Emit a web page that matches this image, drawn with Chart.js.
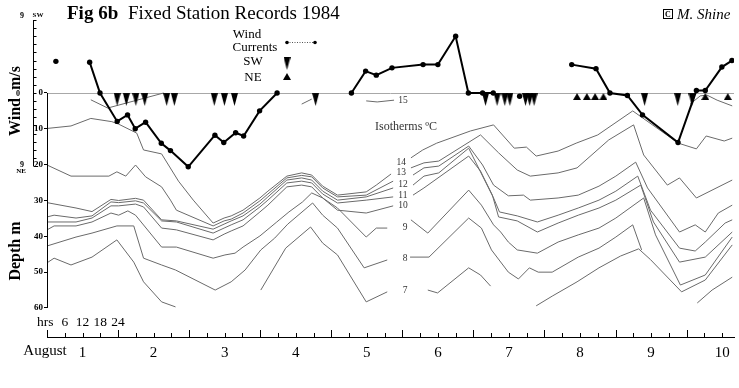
<!DOCTYPE html>
<html>
<head>
<meta charset="utf-8">
<script src="https://cdn.jsdelivr.net/npm/chart.js@4.4.1/dist/chart.umd.min.js"></script>
<style>
  html, body { margin: 0; padding: 0; background: #fff; }
  canvas { display: block; }
</style>
</head>
<body>
<canvas id="chart" width="739" height="388"></canvas>
<script>
// hours counted from 00:00 on 1 August, depths in metres, wind in m/s (SW positive)
const dayLabels = ["1", "2", "3", "4", "5", "6", "7", "8", "9", "10"];
const hourLabels = ["6", "12", "18", "24"];
const depthTicks = [0, 10, 20, 30, 40, 50, 60];

// null = no record (line is broken there)
const windHours = [3.0, null, 14.4, 17.9, 23.7, 27.2, 29.8, 33.3, 38.6, 41.7, 47.7, 56.7, 59.7, 63.7, 66.4, 71.8, 77.7, null,
  102.8, 107.6, 111.2, 116.5, 127.0, 132.0, 138.0, 142.3, 147.1, 150.7, null, 159.6, null,
  177.2, 185.4, 190.1, 196.0, 201.1, 213.1, 219.3, 222.3, 227.9, 231.3];
const windSpeed = [3.9, null, 3.8, 0, -3.5, -2.7, -4.4, -3.6, -6.2, -7.1, -9.1, -5.2, -6.1, -4.9, -5.3, -2.2, 0, null,
  0, 2.7, 2.2, 3.1, 3.5, 3.5, 7.0, 0, 0, 0, null, -0.4, null,
  3.5, 3.0, 0, -0.3, -2.7, -6.1, 0.3, 0.3, 3.2, 4.0];

// current direction records
const swHours = [23.7, 26.8, 30.0, 33.0, 40.4, 43.0, 56.5, 59.9, 63.3, 90.7, 148.1, 152.0, 154.6, 156.3, 161.6, 163.0, 164.5, 201.8, 213.0, 217.8];
const neHours = [179.0, 182.3, 185.1, 187.9, 222.3, 229.9];

// isotherms
const iso15Hours = [14.8, 20.5, 39.4, null, 86.0, 89.4, null, 107.8, 111.5, 117.2, null, 217.2, 220.6, 222.9, 226.3, 231.4];
const iso15Depth = [1.9, 4.2, 0, null, 3.1, 1.7, null, 2.2, 2.5, 2.0, null, 3.1, 0.8, 0.6, 2.0, 3.6];

const iso14Hours = [0, 8.1, 14.8, 21.9, 24.2, 30.3, 32.6, 38.7, 44.4, 49.4, 56.1, 59.8, 62.2, 66.2, 71.9, 74.6, 81.0, 86.0, 89.4, 93.1,
  98.1, 107.8, 111.2, 116.2, null, 122.9, 126.9, 131.6, 143.0, 150.8, 157.8, 161.9, 165.2, 172.6, 178.7, 186.0, 197.8, 213.2, 219.3, 222.6, 228.7, 231.4];
const iso14Depth = [9.9, 9.2, 7.1, 8.0, 8.7, 11.2, 15.9, 17.0, 24.6, 29.9, 36.3, 34.9, 34.3, 32.7, 29.3, 27.4, 23.2, 22.3, 22.9, 26.0,
  28.5, 27.6, 25.7, 22.6, null, 18.1, 15.9, 14.0, 10.6, 8.9, 15.4, 15.1, 17.6, 16.2, 14.0, 11.7, 5.0, 14.0, 15.6, 12.0, 13.4, 12.6];

const iso13Hours = [0, 8.1, 20.9, 23.6, 26.6, 29.9, 33.3, 38.7, 41.7, 43.7, 56.1, 59.8, 62.2, 66.2, 71.9, 74.6, 81.0, 86.0, 89.4, 93.1,
  98.1, 107.8, 116.9, null, 122.9, 127.3, 132.3, 146.4, 152.5, 158.8, 163.2, 172.6, 179.0, 189.7, 198.1, 201.5, 209.5, 213.6, 219.3, 231.4];
const iso13Depth = [20.1, 23.2, 23.2, 22.0, 23.2, 20.1, 23.4, 26.2, 29.9, 32.7, 37.1, 35.7, 35.2, 33.5, 30.1, 28.2, 23.7, 23.0, 23.4, 26.5,
  29.0, 28.5, 24.6, null, 20.9, 19.5, 19.0, 11.7, 16.7, 21.5, 23.2, 22.3, 20.9, 13.1, 8.9, 17.3, 25.7, 23.7, 29.3, 24.3];

const iso12Hours = [0, 9.8, 15.2, 21.6, 24.2, 29.9, 32.6, 38.7, 43.7, 56.1, 59.8, 62.2, 66.2, 71.9, 74.6, 81.0, 86.0, 89.4, 93.1, 98.1,
  107.8, 116.9, null, 123.6, 127.3, 132.3, 142.4, 147.1, 150.8, 155.8, 160.9, 163.2, 172.6, 179.4, 186.4, 192.1, 198.8, 202.8, 213.6, 218.9, 222.3, 226.7, 231.4];
const iso12Depth = [30.6, 32.1, 33.1, 29.7, 30.0, 29.4, 29.9, 35.4, 35.7, 38.0, 36.6, 35.7, 34.3, 31.0, 29.0, 24.3, 23.7, 24.3, 27.4, 29.9,
  29.0, 26.5, null, 22.9, 20.9, 20.4, 14.8, 20.1, 25.7, 28.7, 28.5, 29.9, 29.3, 28.5, 26.0, 23.2, 19.3, 26.5, 38.8, 36.8, 38.8, 33.5, 31.3];

const iso11Hours = [0, 2.4, 9.8, 15.2, 21.6, 24.2, 29.9, 32.6, 38.7, 43.7, 56.1, 59.8, 62.2, 66.2, 71.9, 74.6, 81.0, 86.0, 89.4, 93.1,
  98.1, 107.8, 116.9, null, 123.6, 127.3, 132.3, 142.4, 150.8, 152.8, 158.8, 165.6, 172.6, 179.4, 186.4, 192.1, 199.5, 203.8, 213.6, 218.9, 222.3, 229.0, 231.4];
const iso11Depth = [34.6, 34.1, 34.9, 34.3, 30.4, 30.6, 30.1, 30.7, 35.7, 36.0, 39.1, 37.7, 36.8, 35.4, 31.8, 29.9, 25.1, 24.6, 25.1, 28.2,
  30.7, 29.9, 29.0, null, 25.7, 23.2, 22.3, 15.4, 29.3, 33.2, 34.3, 36.0, 34.1, 32.1, 29.9, 27.4, 23.2, 32.7, 43.3, 44.1, 41.6, 36.3, 35.4];

const iso10Hours = [0, 9.8, 15.2, 21.6, 24.2, 29.9, 32.6, 38.7, 43.7, 56.1, 59.8, 62.2, 66.2, 71.9, 74.6, 81.0, 86.0, 89.4, 93.1, 98.1,
  107.8, 116.9, null, 123.6, 127.3, 142.4, 146.4, 150.4, 152.5, 158.8, 165.6, 172.6, 179.4, 186.4, 192.1, 200.5, 204.8, 213.6, 222.3, 231.4];
const iso10Depth = [36.0, 36.0, 34.9, 31.5, 31.5, 31.0, 31.8, 37.7, 38.2, 41.0, 39.4, 38.5, 37.1, 33.2, 31.3, 26.2, 25.7, 26.2, 29.3, 32.7,
  33.5, 31.5, null, 28.5, 26.5, 17.6, 21.8, 28.5, 34.6, 35.7, 38.8, 36.3, 34.1, 32.1, 29.9, 25.7, 36.0, 47.2, 45.8, 38.8];

const iso9Hours = [0, 2.4, 9.8, 15.2, 21.6, 24.2, 27.3, 29.9, 38.7, 43.7, 56.1, 60.1, 63.5, 66.2, 71.9, 77.6, 81.7, 86.3, 89.4, 93.1,
  98.1, 107.8, 111.2, 114.9, null, 122.9, 128.6, 142.4, 146.7, 150.8, 153.2, 155.8, 158.8, 165.6, 172.6, 179.4, 186.4, 192.1, 201.5, 205.5, 213.9, 222.3, 231.4];
const iso9Depth = [38.2, 37.1, 37.1, 36.0, 33.5, 34.1, 32.9, 34.1, 43.0, 43.0, 46.1, 45.2, 44.7, 43.0, 39.9, 36.0, 33.2, 30.4, 27.9, 29.3,
  32.1, 40.2, 37.7, 37.7, null, 35.4, 39.1, 27.1, 31.3, 36.8, 38.8, 41.6, 43.8, 44.7, 41.6, 39.6, 37.7, 34.9, 29.3, 39.6, 53.6, 50.8, 40.2];

const iso8Hours = [0, 9.8, 15.2, 23.6, 29.3, 32.6, 38.7, 43.4, 56.8, 62.2, 66.9, 72.2, 76.9, 81.3, 89.7, 93.1, 98.1, 107.1, 114.9, null,
  122.6, 129.0, 142.4, 146.7, 150.1, 155.8, 159.2, 162.9, 165.9, 170.6, 179.4, 186.4, 192.1, 197.8, 200.8];
const iso8Depth = [42.7, 40.2, 39.1, 37.1, 37.1, 46.1, 48.0, 49.4, 55.0, 52.7, 49.4, 43.8, 40.5, 36.6, 30.7, 34.1, 37.7, 48.8, 46.6, null,
  45.8, 45.8, 34.9, 37.7, 43.8, 50.0, 51.9, 48.8, 50.0, 50.0, 45.8, 43.3, 40.2, 36.8, 43.8];

const iso7Hours = [0, 2.4, 8.1, 15.2, 23.6, 29.3, 32.6, 38.7, 43.4, null, 72.2, 80.6, 89.0, 93.1, 98.1, 107.8, 114.9, null,
  128.6, 131.9, 142.4, 146.4, 149.8, null, 165.2, 170.6, 179.0, 186.4, 193.7, 199.8, 203.8, 214.3, 222.3, 231.4, null, 219.6, 224.6, 231.4];
const iso7Depth = [47.4, 46.1, 48.0, 45.8, 41.0, 47.2, 52.7, 58.3, 59.7, null, 55.0, 43.3, 37.4, 41.9, 45.2, 58.3, 55.5, null,
  55.0, 55.8, 48.8, 50.8, 53.9, null, 59.4, 56.7, 52.7, 48.8, 45.5, 43.5, 46.5, 55.5, 52.2, 42.4, null, 58.6, 55.0, 51.4];

// isotherm labels and where they sit
const isoLabels = ["15", "14", "13", "12", "11", "10", "9", "8", "7"];
const isoLabelHours = [120.2, 119.6, 119.6, 120.2, 120.2, 120.2, 120.9, 120.9, 120.9];
const isoLabelDepths = [2.2, 19.3, 22.3, 25.5, 28.6, 31.5, 37.4, 46.3, 55.2];

const serif = "'Liberation Serif', 'DejaVu Serif', serif";
Chart.defaults.font.family = serif;
Chart.defaults.color = "#000";

const pts = (xs, ys) => xs.map((x, i) => ({ x: x, y: ys[i] }));

// triangle markers, drawn in the lower half so that the point sits on the axis
function marker(w, h, down) {
  const c = document.createElement("canvas");
  c.width = w;
  c.height = h * 2;
  const g = c.getContext("2d");
  g.fillStyle = "#000";
  g.beginPath();
  if (down) {
    g.moveTo(0, h); g.lineTo(w, h); g.lineTo(w / 2, 2 * h);
  } else {
    g.moveTo(w / 2, h); g.lineTo(w, 2 * h); g.lineTo(0, 2 * h);
  }
  g.closePath();
  g.fill();
  return c;
}
const swMarker = marker(7, 13, true);
const neMarker = marker(8, 7, false);

function text(ctx, str, x, y, font, align, base) {
  ctx.font = font;
  ctx.textAlign = align || "center";
  ctx.textBaseline = base || "middle";
  ctx.fillText(str, x, y);
}

function vertical(ctx, str, x, y, font) {
  ctx.save();
  ctx.translate(x, y);
  ctx.rotate(-Math.PI / 2);
  text(ctx, str, 0, 0, font);
  ctx.restore();
}

const decor = {
  id: "decor",
  beforeDatasetsDraw(chart) {
    const { ctx, chartArea: a, scales: { y } } = chart;
    const y0 = Math.round(y.getPixelForValue(0)) + 0.5;
    ctx.save();
    ctx.strokeStyle = "#a8a8a8";
    ctx.lineWidth = 1;
    ctx.beginPath();
    ctx.moveTo(a.left, y0);
    ctx.lineTo(a.right, y0);
    ctx.stroke();
    ctx.restore();
  },
  afterDraw(chart) {
    const { ctx, chartArea: a, scales: { x, y, yWind } } = chart;
    ctx.save();
    ctx.fillStyle = "#000";
    ctx.strokeStyle = "#000";
    ctx.lineWidth = 1;

    // depth axis 0-60 m
    const ax = Math.round(a.left) + 0.5;
    ctx.beginPath();
    ctx.moveTo(ax, y.getPixelForValue(0));
    ctx.lineTo(ax, y.getPixelForValue(60));
    // wind axis 9 SW - 9 NE
    const wx = 33.5;
    ctx.moveTo(wx, yWind.getPixelForValue(9));
    ctx.lineTo(wx, yWind.getPixelForValue(-9));
    for (let w = -9; w <= 9; w++) {
      const py = Math.round(yWind.getPixelForValue(w)) + 0.5;
      ctx.moveTo(wx, py);
      ctx.lineTo(wx + 3, py);
    }
    // time ticks every 6 h, pointing up
    for (let h = 0; h <= 228; h += 6) {
      const px = Math.round(x.getPixelForValue(h)) + 0.5;
      ctx.moveTo(px, a.bottom);
      ctx.lineTo(px, a.bottom - (h % 24 === 0 ? 7 : 4));
    }
    ctx.stroke();

    const b8 = "bold 8px " + serif;
    const b7 = "bold 7px " + serif;
    text(ctx, "9", 22, yWind.getPixelForValue(9) - 4, b8);
    text(ctx, "SW", 38, yWind.getPixelForValue(9) - 5, b7);
    text(ctx, "0", 18, yWind.getPixelForValue(0) + 1, b8);
    text(ctx, "9", 22, yWind.getPixelForValue(-9) - 1, b8);
    text(ctx, "NE", 21, yWind.getPixelForValue(-9) + 5, b7);

    // axis titles
    vertical(ctx, "m/s", 16, 78, "bold 16px " + serif);
    vertical(ctx, "Wind", 16, 117, "bold 16px " + serif);
    vertical(ctx, "Depth m", 16, 251, "bold 16px " + serif);

    // time labels
    text(ctx, "August", 45, 351, "15px " + serif);
    text(ctx, "hrs", 37, 326, "13.5px " + serif, "left", "alphabetic");
    hourLabels.forEach((lab) => {
      text(ctx, lab, x.getPixelForValue(Number(lab)), 326, "13.5px " + serif, "center", "alphabetic");
    });

    // title
    text(ctx, "Fig 6b", 67, 19, "bold 19px " + serif, "left", "alphabetic");
    text(ctx, "Fixed Station Records 1984", 128, 19, "19px " + serif, "left", "alphabetic");

    // legend
    const f13 = "13px " + serif;
    text(ctx, "Wind", 247, 38, f13, "center", "alphabetic");
    text(ctx, "Currents", 255, 51, f13, "center", "alphabetic");
    text(ctx, "SW", 253, 65, f13, "center", "alphabetic");
    text(ctx, "NE", 253, 81, f13, "center", "alphabetic");
    ctx.strokeStyle = "#555";
    ctx.setLineDash([1, 1.5]);
    ctx.beginPath();
    ctx.moveTo(287, 42.5);
    ctx.lineTo(315, 42.5);
    ctx.stroke();
    ctx.setLineDash([]);
    [287, 315].forEach((px) => {
      ctx.beginPath();
      ctx.arc(px, 42.5, 1.8, 0, Math.PI * 2);
      ctx.fill();
    });
    ctx.drawImage(swMarker, 287 - swMarker.width / 2, 57 - swMarker.height / 2);
    ctx.drawImage(neMarker, 287 - neMarker.width / 2, 73 - neMarker.height / 2);

    // signature
    ctx.strokeStyle = "#000";
    ctx.strokeRect(663.5, 9.5, 9, 9);
    text(ctx, "C", 668, 14.5, "bold 8px " + serif);
    text(ctx, "M. Shine", 677, 19, "italic 15px " + serif, "left", "alphabetic");

    // isotherm labels
    ctx.fillStyle = "#333";
    text(ctx, "Isotherms \u00baC", 375, 127, "12px " + serif, "left", "middle");
    isoLabels.forEach((lab, i) => {
      text(ctx, lab, x.getPixelForValue(isoLabelHours[i]), y.getPixelForValue(isoLabelDepths[i]), "9.5px " + serif);
    });
    ctx.restore();
  }
};

const isoSets = [
  [iso15Hours, iso15Depth], [iso14Hours, iso14Depth], [iso13Hours, iso13Depth], [iso12Hours, iso12Depth],
  [iso11Hours, iso11Depth], [iso10Hours, iso10Depth], [iso9Hours, iso9Depth], [iso8Hours, iso8Depth], [iso7Hours, iso7Depth]
];

const datasets = [
  {
    label: "Wind",
    data: pts(windHours, windSpeed),
    yAxisID: "yWind",
    borderColor: "#000",
    borderWidth: 2,
    pointRadius: 2.7,
    pointBackgroundColor: "#000",
    pointBorderWidth: 0,
    order: 0
  },
  {
    label: "SW",
    data: swHours.map((h) => ({ x: h, y: 0 })),
    yAxisID: "yWind",
    showLine: false,
    pointStyle: swMarker,
    pointRadius: 3,
    order: 1
  },
  {
    label: "NE",
    data: neHours.map((h) => ({ x: h, y: 0 })),
    yAxisID: "yWind",
    showLine: false,
    pointStyle: neMarker,
    pointRadius: 3,
    order: 1
  }
].concat(isoSets.map(([hs, ds], i) => ({
  label: "Isotherm " + isoLabels[i],
  data: pts(hs, ds),
  yAxisID: "y",
  borderColor: "#6a6a6a",
  borderWidth: 1,
  pointRadius: 0,
  order: 2
})));

new Chart(document.getElementById("chart"), {
  type: "line",
  data: { datasets },
  plugins: [decor],
  options: {
    responsive: false,
    animation: false,
    devicePixelRatio: 1,
    events: [],
    spanGaps: false,
    layout: { padding: { top: 18, right: 0, bottom: 0, left: 0 } },
    plugins: { legend: { display: false }, tooltip: { enabled: false } },
    scales: {
      x: {
        type: "linear",
        min: 0,
        max: 232,
        grid: { display: false, drawTicks: false },
        border: { display: true, color: "#000", width: 1 },
        afterBuildTicks: (s) => { s.ticks = dayLabels.map((_, i) => ({ value: 12 + 24 * i })); },
        ticks: {
          autoSkip: false,
          maxRotation: 0,
          padding: 7,
          color: "#000",
          font: { size: 15 },
          callback: (v, i) => dayLabels[i]
        },
        afterFit: (s) => { s.height = 51; }
      },
      y: {
        type: "linear",
        reverse: true,
        min: -20.93,
        max: 68.1,
        grid: { display: true, drawOnChartArea: false, drawTicks: true, tickLength: 3, color: "#000" },
        border: { display: false },
        afterBuildTicks: (s) => { s.ticks = depthTicks.map((v) => ({ value: v })); },
        ticks: { padding: 1, color: "#000", font: { size: 9, weight: "bold" } },
        afterFit: (s) => { s.width = 47; }
      },
      yWind: {
        type: "linear",
        display: false,
        min: -30.08,
        max: 9.247
      }
    }
  }
});
</script>
</body>
</html>
